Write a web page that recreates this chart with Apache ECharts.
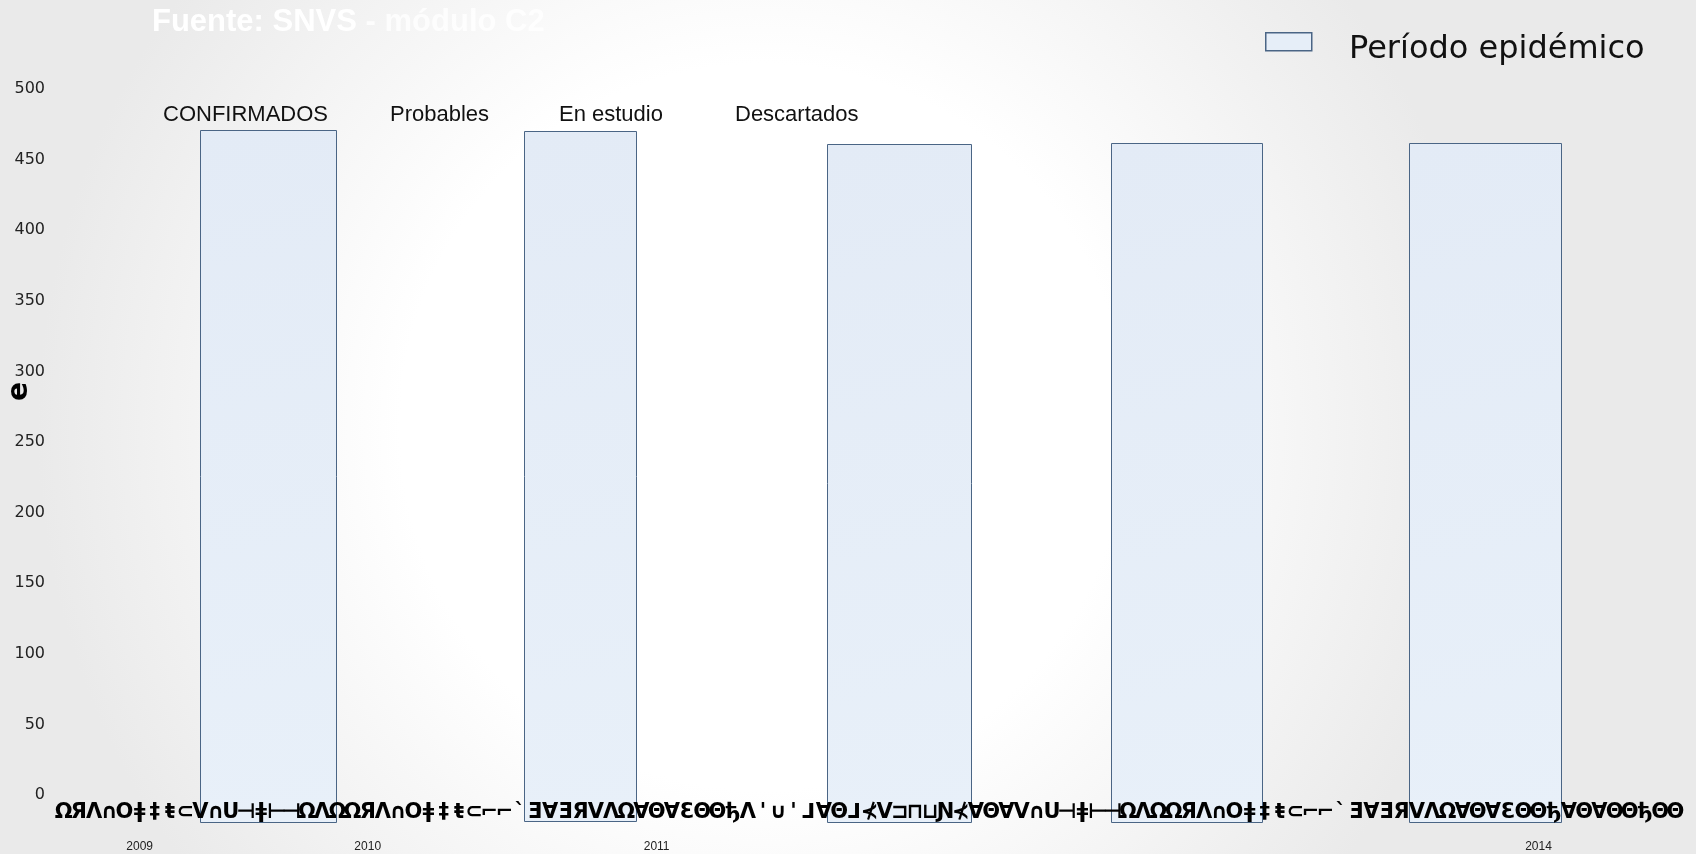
<!DOCTYPE html>
<html>
<head>
<meta charset="utf-8">
<script src="https://cdn.jsdelivr.net/npm/echarts@6/dist/echarts.min.js"></script>
<style>
html,body{margin:0;padding:0;width:1696px;height:854px;overflow:hidden;}
#c{width:1696px;height:854px;}
</style>
</head>
<body>
<div id="c"></div>
<script>
// ---- data ----
const titleText = 'Fuente: SNVS';
const titleRest = ' - módulo C2';
const yAxisName = 'e';
// x-axis week labels (rendered as garbled glyphs in the reference)
const weekGlyphs = [
  'Ω','Я','Λ','∩','O','ǂ','‡','ŧ','⊂',
  'V','∩','U','⊣','ǂ','⊢','⊣','Ω','Λ','Ω',
  'Ω','Я','Λ','∩','O','ǂ','‡','ŧ','⊂','⌐',
  '⌐','`','Ǝ','Ɐ','Ǝ','Я','V','Λ','Ω','Ɐ',
  'Θ','Ɐ','Ɛ','Θ','Θ','ђ','Λ','\'','∪','\'',
  'ᒧ','Ɐ','Θ','ᒧ','⊀','V','⊐','⊓','⊔','Ɲ',
  '⊀','Ɐ','Θ','Ɐ','V','∩','U','⊣','ǂ','⊢',
  '⊣','Ω','Λ','Ω','Ω','Я','Λ','∩','O','ǂ',
  '‡','ŧ','⊂','⌐','⌐','`','Ǝ','Ɐ','Ǝ','Я',
  'V','Λ','Ω','Ɐ','Θ','Ɐ','Ɛ','Θ','Θ','ђ',
  'Ɐ','Θ','Ɐ','Θ','Θ','ђ','Θ','Θ'
];
const yearLabels = ['2009','2010','2011','2014'];
const yearIndex = [5, 20, 39, 97];
// epidemic periods (x in week positions, y in cases)
const epiStart = [9.5, 30.8, 50.7, 69.35, 88.95];
const epiEnd   = [18.45, 38.15, 60.2, 79.25, 98.95];
const epiLow   = [-19, -19, -19, -19, -19];
const epiHigh  = [471, 470, 461, 462, 462];
// case series (no visible marks in the reference)
const confirmados = [];
const probables = [];
const enEstudio = [];
const descartados = [];
const epiName = 'Período epidémico';
const seriesNames = ['CONFIRMADOS', 'Probables', 'En estudio', 'Descartados'];
const yMin = 0, yMax = 500, yStep = 50;

const N = weekGlyphs.length;
const epiData = epiStart.map((s, i) => [s, epiEnd[i], epiLow[i], epiHigh[i]]);
const nameLegendLeft = [143, 370, 539, 715];

const chart = echarts.init(document.getElementById('c'));
chart.setOption({
  animation: false,
  backgroundColor: {
    type: 'radial', x: 0.45, y: 0.5, r: 0.85,
    colorStops: [
      {offset: 0, color: '#ffffff'},
      {offset: 0.5, color: '#ffffff'},
      {offset: 1, color: '#eaeaea'}
    ]
  },
  title: {
    text: '{b|' + titleText + '}{n|' + titleRest + '}',
    left: 147, top: 2,
    textStyle: {
      rich: {
        b: {color: '#ffffff', fontSize: 31, fontWeight: 'bold', fontFamily: 'Liberation Sans'},
        n: {color: 'rgba(255,255,255,0.8)', fontSize: 31, fontFamily: 'Liberation Sans'}
      }
    }
  },
  legend: [
    {
      // icon of the epidemic-period legend entry
      left: 1260, top: 27,
      itemWidth: 46, itemHeight: 18,
      formatter: () => '',
      textStyle: {fontSize: 1},
      data: [{name: epiName, icon: 'rect',
              itemStyle: {color: '#e6eef8', borderColor: '#4a6585', borderWidth: 1.5}}]
    },
    {
      // text of the epidemic-period legend entry
      left: 1329, top: 29,
      itemWidth: 10, itemHeight: 10,
      textStyle: {fontFamily: 'DejaVu Sans', fontSize: 32, color: '#111'},
      data: [{name: epiName, icon: 'none'}]
    }
  ].concat(seriesNames.map((nm, i) => ({
      left: nameLegendLeft[i], top: 99,
      itemWidth: 10, itemHeight: 10,
      textStyle: {fontFamily: 'Liberation Sans', fontSize: 22, color: '#111'},
      data: [{name: nm, icon: 'none'}]
  }))),
  grid: {left: 56, right: 13, top: 89, bottom: 59, containLabel: false},
  xAxis: [
    {type: 'value', min: 0, max: N, show: false},
    {
      type: 'category', data: weekGlyphs, position: 'bottom', boundaryGap: true, z: 5,
      axisLine: {show: false}, axisTick: {show: false}, splitLine: {show: false},
      axisLabel: {interval: 0, margin: 7, color: '#000', fontSize: 21, fontWeight: 'bold', fontFamily: 'DejaVu Sans'}
    },
    {
      type: 'category', data: weekGlyphs, position: 'bottom', offset: 38, boundaryGap: true,
      axisLine: {show: false}, axisTick: {show: false}, splitLine: {show: false},
      axisLabel: {
        interval: 0, margin: 8, color: '#222', fontSize: 12, fontFamily: 'Liberation Sans',
        formatter: (v, i) => { const k = yearIndex.indexOf(i); return k >= 0 ? yearLabels[k] : ''; }
      }
    }
  ],
  yAxis: {
    type: 'value', min: yMin, max: yMax, interval: yStep,
    axisLine: {show: false}, axisTick: {show: false}, splitLine: {show: false},
    axisLabel: {color: '#222', fontSize: 16, fontFamily: 'DejaVu Sans', margin: 11}
  },
  graphic: [{
    type: 'text', left: 6, top: 382, rotation: Math.PI / 2,
    style: {text: yAxisName, font: 'bold 28px DejaVu Sans', fill: '#000'}
  }],
  series: [
    {
      name: epiName, type: 'custom', xAxisIndex: 0, clip: false, z: 2,
      data: epiData,
      encode: {x: [0, 1], y: [2, 3]},
      renderItem: (params, api) => {
        const p1 = api.coord([api.value(0), api.value(3)]);
        const p2 = api.coord([api.value(1), api.value(2)]);
        return {
          type: 'rect',
          shape: {x: Math.round(p1[0]) + 0.5, y: Math.round(p1[1]) + 0.5,
                  width: Math.round(p2[0] - p1[0]), height: Math.round(p2[1] - p1[1])},
          style: {
            fill: {type: 'linear', x: 0, y: 0, x2: 1, y2: 1, colorStops: [
              {offset: 0, color: '#e3ebf6'}, {offset: 1, color: '#e8f0f9'}]},
            stroke: '#4a6585', lineWidth: 1
          }
        };
      }
    },
    {name: 'CONFIRMADOS', type: 'line', xAxisIndex: 0, data: confirmados},
    {name: 'Probables', type: 'line', xAxisIndex: 0, data: probables},
    {name: 'En estudio', type: 'line', xAxisIndex: 0, data: enEstudio},
    {name: 'Descartados', type: 'line', xAxisIndex: 0, data: descartados}
  ]
});
</script>
</body>
</html>
